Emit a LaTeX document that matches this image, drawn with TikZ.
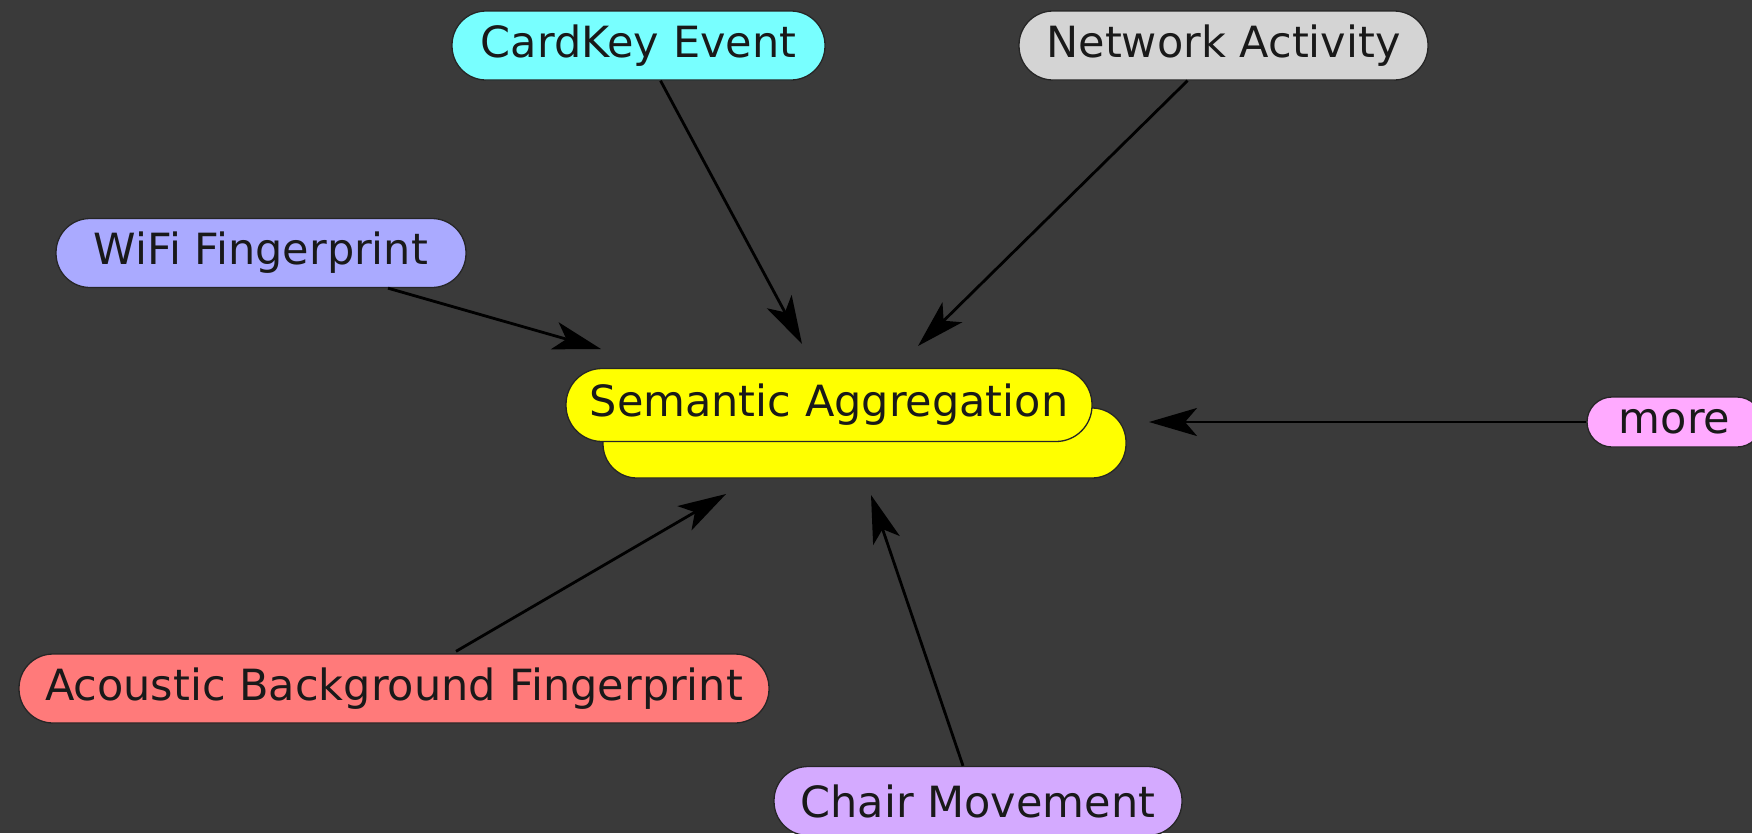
\documentclass[tikz,border=0pt]{standalone}
\usepackage{fontspec}
\setmainfont{DejaVu Sans}
\usetikzlibrary{arrows.meta}
\definecolor{bgc}{RGB}{58,58,58}
\definecolor{cardc}{RGB}{120,255,255}
\definecolor{netc}{RGB}{212,212,212}
\definecolor{wific}{RGB}{170,170,255}
\definecolor{aggc}{RGB}{255,255,0}
\definecolor{morec}{RGB}{255,170,255}
\definecolor{acouc}{RGB}{255,122,122}
\definecolor{chairc}{RGB}{212,170,255}
\begin{document}
\begin{tikzpicture}[x=1pt,y=-1pt,
  pill/.style={draw=black!85, line width=1.3pt, rounded corners=34pt,
    minimum height=69pt, inner sep=0pt, text=black!90,
    font=\fontsize{43}{50}\selectfont},
  smallpill/.style={pill, rounded corners=25pt, minimum height=50pt},
  link/.style={line width=2.8pt, draw=black,
    -{Stealth[length=48pt,width=28pt,inset=12pt]}}]
  % canvas
  \fill[bgc] (0,0) rectangle (1752,833);
  \useasboundingbox (0,0) rectangle (1752,833);

  % central aggregation node with its stacked copy behind
  \node[pill, fill=aggc, minimum width=523pt, minimum height=70pt] (aggback) at (864.5,443) {};
  \node[pill, fill=aggc, minimum width=526pt, minimum height=73pt, rounded corners=36pt] (agg) at (829,405) {Semantic Aggregation};

  % sources
  \node[pill, fill=cardc, minimum width=373pt] (card) at (638.5,45.5) {CardKey Event};
  \node[pill, fill=netc, minimum width=409pt] (net) at (1223.5,45.5) {Network Activity};
  \node[pill, fill=wific, minimum width=410pt] (wifi) at (261,253) {WiFi Fingerprint};
  \node[smallpill, fill=morec, minimum width=175pt] (more) at (1674.5,422) {more};
  \node[pill, fill=acouc, minimum width=750pt] (acou) at (394,688.5) {Acoustic Background Fingerprint};
  \node[pill, fill=chairc, minimum width=408pt] (chair) at (978,801) {Chair Movement};

  % arrow tips near the aggregation node
  \coordinate (cardtip) at (802,344);
  \coordinate (nettip) at (918,346);
  \coordinate (wifitip) at (601,349);
  \coordinate (moretip) at (1149,422);
  \coordinate (acoutip) at (726,494);
  \coordinate (chairtip) at (871,495);

  % connectors
  \draw[link] ([xshift=22pt]card.south) -- (cardtip);
  \draw[link] ([xshift=-36pt]net.south) -- (nettip);
  \draw[link] ([xshift=127pt]wifi.south) -- (wifitip);
  \draw[link] (more.west) -- (moretip);
  \draw[link] ([xshift=62pt,yshift=2pt]acou.north) -- (acoutip);
  \draw[link] ([xshift=-15pt]chair.north) -- (chairtip);
\end{tikzpicture}
\end{document}
